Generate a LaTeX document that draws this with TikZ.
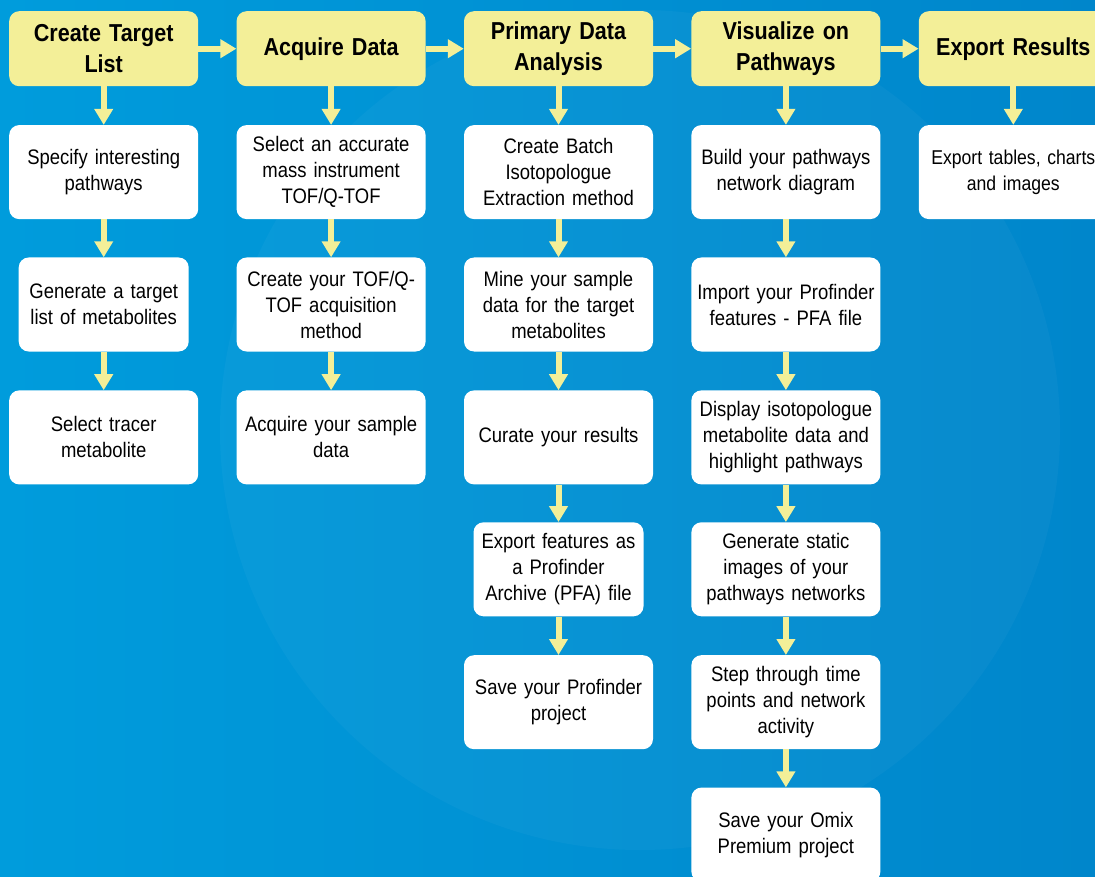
\documentclass[tikz,border=0pt]{standalone}
\usepackage{fontspec}
\setmainfont[FakeStretch=0.88, WordSpace=0.78]{Liberation Sans}
\usepackage{tikz}
\usetikzlibrary{positioning, arrows.meta}
\definecolor{hiyellow}{RGB}{243,239,152}
\definecolor{bglight}{RGB}{0,156,220}
\definecolor{bgdark}{RGB}{0,134,203}
\tikzset{hdr/.style={rounded corners=10pt, fill=hiyellow, text=black, minimum width=189pt, minimum height=75pt, text width=185pt, align=center, inner sep=0pt, font=\fontsize{24.5}{31}\selectfont\bfseries}}
\tikzset{stepbox/.style={rounded corners=10pt, fill=white, text=black, minimum width=189pt, minimum height=94pt, text width=185pt, align=center, inner sep=0pt, font=\fontsize{21}{26}\selectfont}}
\tikzset{narrow/.style={minimum width=170pt, text width=166pt}}
\tikzset{arr/.style={draw=hiyellow, line width=6pt, -{Triangle[width=18pt,length=16pt]}}}
\begin{document}
\begin{tikzpicture}
    \useasboundingbox (0,0) rectangle (1095pt,-877pt);
    \clip (0,0) rectangle (1095pt,-877pt);
    \shade[left color=bglight, right color=bgdark] (0,0) rectangle (1095pt,-877pt);
    \fill[white, opacity=0.03] (640pt,-430pt) circle (420pt);

    \node[hdr, anchor=north west] (T) at (9pt,-11pt) {Create Target\\List};
    \node[hdr, right=38pt of T] (A) {Acquire Data};
    \node[hdr, right=38pt of A] (P) {Primary Data\\Analysis};
    \node[hdr, right=38pt of P] (V) {Visualize on\\Pathways};
    \node[hdr, right=38pt of V] (E) {Export Results};

    \node[stepbox, below=38.5pt of T] (T1) {Specify interesting\\pathways};
    \node[stepbox, narrow, below=38pt of T1] (T2) {Generate a target\\list of metabolites};
    \node[stepbox, below=38.5pt of T2] (T3) {Select tracer\\metabolite};

    \node[stepbox, below=38.5pt of A] (A1) {Select an accurate\\mass instrument\\TOF/Q-TOF};
    \node[stepbox, below=38pt of A1] (A2) {Create your TOF/Q-\\TOF acquisition\\method};
    \node[stepbox, below=38.5pt of A2] (A3) {Acquire your sample\\data};

    \node[stepbox, below=38.5pt of P] (P1) {Create Batch\\Isotopologue\\Extraction method};
    \node[stepbox, below=38pt of P1] (P2) {Mine your sample\\data for the target\\metabolites};
    \node[stepbox, below=38.5pt of P2] (P3) {Curate your results};
    \node[stepbox, narrow, below=37.5pt of P3] (P4) {Export features as\\a Profinder\\Archive (PFA) file};
    \node[stepbox, below=38.5pt of P4] (P5) {Save your Profinder\\project};

    \node[stepbox, below=38.5pt of V] (V1) {Build your pathways\\network diagram};
    \node[stepbox, below=38pt of V1] (V2) {Import your Profinder\\features - PFA file};
    \node[stepbox, below=38.5pt of V2] (V3) {Display isotopologue\\metabolite data and\\highlight pathways};
    \node[stepbox, below=37.5pt of V3] (V4) {Generate static\\images of your\\pathways networks};
    \node[stepbox, below=38.5pt of V4] (V5) {Step through time\\points and network\\activity};
    \node[stepbox, below=38pt of V5] (V6) {Save your Omix\\Premium project};

    \node[stepbox, below=38.5pt of E, font=\fontsize{20}{26}\selectfont] (E1) {Export tables, charts\\and images};

    \draw[arr] (T) -- (A);
    \draw[arr] (A) -- (P);
    \draw[arr] (P) -- (V);
    \draw[arr] (V) -- (E);

    \draw[arr] (T) -- (T1);
    \draw[arr] (T1) -- (T2);
    \draw[arr] (T2) -- (T3);
    \draw[arr] (A) -- (A1);
    \draw[arr] (A1) -- (A2);
    \draw[arr] (A2) -- (A3);
    \draw[arr] (P) -- (P1);
    \draw[arr] (P1) -- (P2);
    \draw[arr] (P2) -- (P3);
    \draw[arr] (P3) -- (P4);
    \draw[arr] (P4) -- (P5);
    \draw[arr] (V) -- (V1);
    \draw[arr] (V1) -- (V2);
    \draw[arr] (V2) -- (V3);
    \draw[arr] (V3) -- (V4);
    \draw[arr] (V4) -- (V5);
    \draw[arr] (V5) -- (V6);
    \draw[arr] (E) -- (E1);
\end{tikzpicture}
\end{document}
